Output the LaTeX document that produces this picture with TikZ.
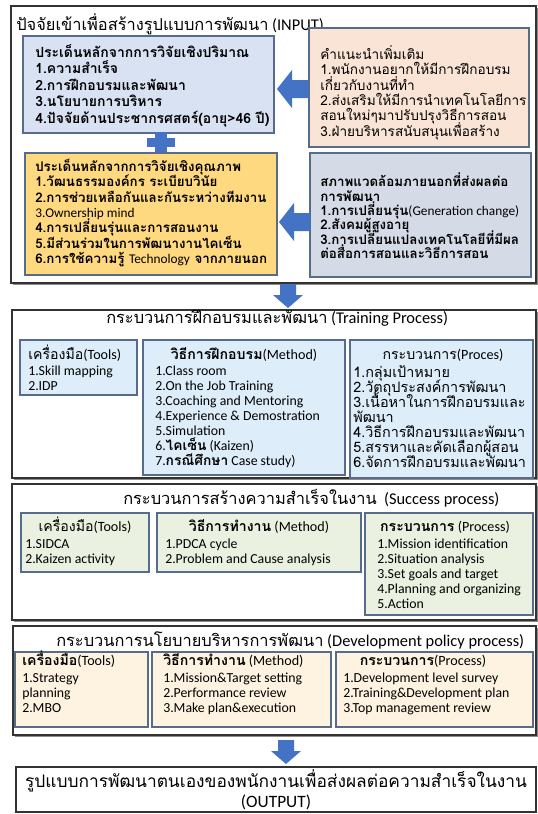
\documentclass[tikz,border=0pt]{standalone}
\usepackage{fontspec}
\setmainfont{Carlito}
\newfontfamily\thf[Script=Thai]{Loma}
\newfontfamily\laf{Carlito}
\newcommand\tx[1]{{\thf #1}}
\newcommand\la[1]{{\laf\mdseries #1}}
\lineskiplimit=-20pt
\lineskip=0pt
\usetikzlibrary{fit,shadows}
\definecolor{arrowblue}{HTML}{4472C4}
\definecolor{boxline}{HTML}{566C8A}
\definecolor{cA}{HTML}{D9E2F3}
\definecolor{cB}{HTML}{FAE4D5}
\definecolor{cC}{HTML}{FFD97F}
\definecolor{cD}{HTML}{D4DAE6}
\definecolor{cTr}{HTML}{DDEDF9}
\definecolor{cSu}{HTML}{EAF1E0}
\definecolor{cDv}{HTML}{FDF3E0}
\tikzset{
  box/.style={draw=boxline, line width=0.8pt, inner sep=0pt},
  outer/.style={draw=black!80, line width=1.1pt, inner sep=0pt, fill=white,
    drop shadow={shadow xshift=1.2pt, shadow yshift=-1.2pt, fill=black!45, opacity=1}},
  txt/.style={inner sep=0pt, align=left, anchor=north west},
  thai/.style={font=\thf\fontsize{10.2}{11.55}\selectfont},
  thaib/.style={font=\thf\bfseries\fontsize{10}{11.5}\selectfont},
  lat/.style={font=\laf\fontsize{10.35}{11.25}\selectfont},
  ttl/.style={inner sep=0pt, font=\fontsize{12.3}{14}\selectfont},
  hd/.style={inner sep=0pt, font=\fontsize{10.6}{12}\selectfont},
  leftarr/.pic={\fill[arrowblue] (0,0) -- (15,-19) -- (15,-9) -- (31,-9) -- (31,9) -- (15,9) -- (15,19) -- cycle;},
  downarr/.pic={\fill[arrowblue] (-8,0) -- (8,0) -- (8,11) -- (15,11) -- (0,24) -- (-15,11) -- (-8,11) -- cycle;},
  plussign/.pic={\fill[arrowblue] (-6,-10) rectangle (6,10); \fill[arrowblue] (-14,-4.5) rectangle (14,4.5);}
}
\begin{document}
\begin{tikzpicture}[x=0.75pt,y=-0.75pt]
\useasboundingbox[fill=white] (0,0) rectangle (538,814);

% ---------------- INPUT ----------------
\node[outer, fit={(11,6) (536,283)}] (inbox) {};
\node[ttl, anchor=base west] (intitle) at (16,30) {\tx{ปัจจัยเข้าเพื่อสร้างรูปแบบการพัฒนา} (INPUT)};

\node[box, fill=cA, fit={(23,36) (274,133)}] (bA) {};
\node[txt, font=\thf\bfseries\fontsize{10.5}{12.4}\selectfont] (tA) at (35,44)
  {ประเด็นหลักจากการวิจัยเชิงปริมาณ\\1.ความสำเร็จ\\2.การฝึกอบรมและพัฒนา\\3.นโยบายการบริหาร\\4.ปัจจัยด้านประชากรศสตร์(อายุ>46 ปี)};

\node[box, fill=cB, fit={(309,28) (529,147)}] (bB) {};
\node[txt, thai] (tB) at (320,45)
  {คำแนะนำเพิ่มเติม\\1.พนักงานอยากให้มีการฝึกอบรม\\เกี่ยวกับงานที่ทำ\\2.ส่งเสริมให้มีการนำเทคโนโลยีการ\\สอนใหม่ๆมาปรับปรุงวิธีการสอน\\3.ฝ่ายบริหารสนับสนุนเพื่อสร้าง};

\node[box, fill=cC, fit={(25,153) (277,275)}] (bC) {};
\node[txt, thaib] (tC) at (35,159)
  {ประเด็นหลักจากการวิจัยเชิงคุณภาพ\\1.วัฒนธรรมองค์กร ระเบียบวินัย\\2.การช่วยเหลือกันและกันระหว่างทีมงาน\\\la{3.Ownership mind}\\4.การเปลี่ยนรุ่นและการสอนงาน\\5.มีส่วนร่วมในการพัฒนางานไคเซ็น\\6.การใช้ความรู้ \la{Technology} จากภายนอก};

\node[box, fill=cD, fit={(310,153) (531,277)}] (bD) {};
\node[txt, font=\thf\bfseries\fontsize{10}{10.7}\selectfont] (tD) at (320,173)
  {สภาพแวดล้อมภายนอกที่ส่งผลต่อ\\การพัฒนา\\1.การเปลี่ยนรุ่น\la{(Generation change)}\\2.สังคมผู้สูงอายุ\\3.การเปลี่ยนแปลงเทคโนโลยีที่มีผล\\ต่อสื่อการสอนและวิธีการสอน};

\coordinate (arB) at (277,89);
\pic at (arB) {leftarr};
\coordinate (arD) at (279,222);
\pic at (arD) {leftarr};
\coordinate (plusAC) at (161,142);
\pic at (plusAC) {plussign};

\coordinate (dn1) at (288,284);
\pic at (dn1) {downarr};

% ---------------- TRAINING ----------------
\node[outer, fit={(12,310) (536,478)}] (trbox) {};
\node[ttl, anchor=base west] (trtitle) at (106,323) {\tx{กระบวนการฝึกอบรมและพัฒนา} (Training Process)};

\node[box, fill=cTr, fit={(20,340) (137,395)}] (trtool) {};
\node[hd, anchor=base west] (trtoolh) at (28,359) {\tx{เครื่องมือ}(Tools)};
\node[txt, lat] (trtoolt) at (28,366) {1.Skill mapping\\2.IDP};

\node[box, fill=cTr, fit={(143,340) (345,475)}] (trmeth) {};
\node[hd, anchor=base] (trmethh) at (244,359) {\tx{\bfseries วิธีการฝึกอบรม}(Method)};
\node[txt, lat] (trmetht) at (155,366)
  {1.Class room\\2.On the Job Training\\3.Coaching and Mentoring\\4.Experience \& Demostration\\5.Simulation\\6.\tx{\bfseries ไคเซ็น} (Kaizen)\\7.\tx{\bfseries กรณีศึกษา} Case study)};

\node[box, fill=cTr, fit={(350,340) (533,478)}] (trproc) {};
\node[hd, anchor=base] (trproch) at (443,359) {\tx{กระบวนการ}(Proces)};
\node[txt, font=\thf\fontsize{10.8}{11.25}\selectfont] (trproct) at (353,365)
  {1.กลุ่มเป้าหมาย\\2.วัตถุประสงค์การพัฒนา\\3.เนื้อหาในการฝึกอบรมและ\\พัฒนา\\4.วิธีการฝึกอบรมและพัฒนา\\5.สรรหาและคัดเลือกผู้สอน\\6.จัดการฝึกอบรมและพัฒนา};

% ---------------- SUCCESS ----------------
\node[outer, fit={(12,484) (536,620)}] (sucbox) {};
\node[ttl, anchor=base west] (suctitle) at (123,504) {\tx{กระบวนการสร้างความสำเร็จในงาน}\ \ (Success process)};

\node[box, fill=cSu, fit={(21,513) (149,572)}] (sutool) {};
\node[hd, anchor=base] (sutoolh) at (85,531) {\tx{เครื่องมือ}(Tools)};
\node[txt, lat] (sutoolt) at (25,539) {1.SIDCA\\2.Kaizen activity};

\node[box, fill=cSu, fit={(157,513) (361,572)}] (sumeth) {};
\node[hd, anchor=base] (sumethh) at (259,531) {\tx{\bfseries วิธีการทำงาน} (Method)};
\node[txt, lat] (sumetht) at (165,539) {1.PDCA cycle\\2.Problem and Cause analysis};

\node[box, fill=cSu, fit={(365,513) (533,615)}] (suproc) {};
\node[hd, anchor=base] (suproch) at (445,531) {\tx{\bfseries กระบวนการ} (Process)};
\node[txt, lat] (suproct) at (377,539)
  {1.Mission identification\\2.Situation analysis\\3.Set goals and target\\4.Planning and organizing\\5.Action};

% ---------------- DEVELOPMENT POLICY ----------------
\node[outer, fit={(13,626) (536,735)}] (devbox) {};
\node[ttl, anchor=base west] (devtitle) at (56,646) {\tx{กระบวนการนโยบายบริหารการพัฒนา} (Development policy process)};

\node[box, fill=cDv, fit={(15,652) (148,727)}] (dvtool) {};
\node[hd, anchor=base west] (dvtoolh) at (22,665) {\tx{\bfseries เครื่องมือ}(Tools)};
\node[txt, lat] (dvtoolt) at (22,673) {1.Strategy\\planning\\2.MBO};

\node[box, fill=cDv, fit={(152,652) (331,727)}] (dvmeth) {};
\node[hd, anchor=base west] (dvmethh) at (163,665) {\tx{\bfseries วิธีการทำงาน} (Method)};
\node[txt, lat] (dvmetht) at (163,673) {1.Mission\&Target setting\\2.Performance review\\3.Make plan\&execution};

\node[box, fill=cDv, fit={(336,652) (533,727)}] (dvproc) {};
\node[hd, anchor=base] (dvproch) at (423,665) {\tx{\bfseries กระบวนการ}(Process)};
\node[txt, lat] (dvproct) at (343,673) {1.Development level survey\\2.Training\&Development plan\\3.Top management review};

\coordinate (dn2) at (286,740);
\pic at (dn2) {downarr};

% ---------------- OUTPUT ----------------
\node[draw=black!80, line width=0.9pt, inner sep=0pt, fill=white, fit={(16,767) (536,812)}] (outbox) {};
\node[inner sep=0pt, align=center, font=\fontsize{13}{15}\selectfont] (outtext) at (outbox.center)
  {\tx{รูปแบบการพัฒนาตนเองของพนักงานเพื่อส่งผลต่อความสำเร็จในงาน}\\(OUTPUT)};
\end{tikzpicture}
\end{document}
